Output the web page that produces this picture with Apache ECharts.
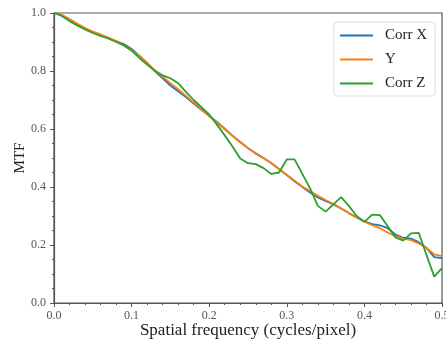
<!DOCTYPE html>
<html><head><meta charset="utf-8">
<script src="https://cdn.jsdelivr.net/npm/echarts@6/dist/echarts.min.js"></script>
<style>html,body{margin:0;padding:0;background:#fff}#c{width:446px;height:339px}</style>
</head><body><div id="c"></div>
<script>
const freq = [0.00,0.01,0.02,0.03,0.04,0.05,0.06,0.07,0.08,0.09,0.10,0.11,0.12,0.13,0.14,0.15,0.16,0.17,0.18,0.19,0.20,0.21,0.22,0.23,0.24,0.25,0.26,0.27,0.28,0.29,0.30,0.31,0.32,0.33,0.34,0.35,0.36,0.37,0.38,0.39,0.40,0.41,0.42,0.43,0.44,0.45,0.46,0.47,0.48,0.49,0.50];
const corrX = [1.000,0.993,0.978,0.962,0.947,0.934,0.923,0.913,0.903,0.893,0.876,0.853,0.828,0.800,0.775,0.750,0.730,0.710,0.688,0.666,0.645,0.624,0.601,0.577,0.555,0.534,0.516,0.500,0.483,0.462,0.441,0.420,0.400,0.381,0.364,0.352,0.340,0.326,0.310,0.295,0.282,0.272,0.268,0.258,0.236,0.225,0.222,0.210,0.190,0.158,0.155];
const corrY = [1.000,0.993,0.978,0.963,0.948,0.936,0.926,0.915,0.903,0.889,0.872,0.852,0.828,0.803,0.780,0.758,0.737,0.714,0.691,0.668,0.645,0.622,0.599,0.576,0.554,0.534,0.515,0.499,0.482,0.462,0.442,0.422,0.402,0.386,0.370,0.355,0.342,0.326,0.310,0.295,0.280,0.268,0.258,0.243,0.230,0.222,0.217,0.205,0.190,0.168,0.162];
const corrZ = [1.000,0.990,0.972,0.957,0.943,0.931,0.921,0.912,0.900,0.888,0.870,0.845,0.822,0.800,0.785,0.775,0.758,0.728,0.700,0.675,0.650,0.615,0.578,0.540,0.498,0.482,0.479,0.465,0.445,0.450,0.495,0.495,0.445,0.395,0.335,0.315,0.340,0.365,0.335,0.300,0.280,0.305,0.303,0.265,0.226,0.215,0.240,0.242,0.166,0.091,0.120];
const xTicks = [0, 0.5, 0.1];
const yTicks = [0, 1.0, 0.2];
const names = ['Corr X','Y','Corr Z'];
const colors = ['#1f77b4','#ff7f0e','#2ca02c'];

const pair = arr => freq.map((f,i)=>[f,arr[i]]);
const serif = '"Liberation Serif","DejaVu Serif",serif';
const axisCol = '#555';
const chart = echarts.init(document.getElementById('c'));
chart.setOption({
  animation:false,
  grid:{left:54,right:4,top:13,bottom:36,containLabel:false,outerBoundsMode:'none',show:true,borderColor:axisCol,borderWidth:1.2,backgroundColor:'transparent'},
  legend:{
    orient:'vertical', right:11, top:22, data:names,
    icon:'rect', itemWidth:33, itemHeight:2, itemGap:9,
    backgroundColor:'#fff', borderColor:'#ddd', borderWidth:1, borderRadius:3,
    padding:[6,8,5,6],
    textStyle:{fontFamily:serif,fontSize:15,color:'#222',padding:[0,0,0,7]}
  },
  xAxis:{
    type:'value', min:xTicks[0], max:xTicks[1], interval:xTicks[2],
    name:'Spatial frequency (cycles/pixel)', nameLocation:'middle', nameGap:19, nameMoveOverlap:false,
    nameTextStyle:{fontFamily:serif,fontSize:17,color:'#222',verticalAlign:'top'},
    axisLine:{show:true,lineStyle:{color:axisCol,width:1.2}},
    axisTick:{show:true,length:4,lineStyle:{color:axisCol}},
    minorTick:{show:true,splitNumber:5,length:2,lineStyle:{color:axisCol}},
    splitLine:{show:false},
    axisLabel:{fontFamily:serif,fontSize:12,color:'#555',margin:7,formatter:v=>v.toFixed(1)}
  },
  yAxis:{
    type:'value', min:yTicks[0], max:yTicks[1], interval:yTicks[2],
    name:'MTF', nameLocation:'middle', nameGap:26, nameRotate:90, nameMoveOverlap:false,
    nameTextStyle:{fontFamily:serif,fontSize:15,color:'#222'},
    axisLine:{show:true,lineStyle:{color:axisCol,width:1.2}},
    axisTick:{show:true,length:4,lineStyle:{color:axisCol}},
    minorTick:{show:true,splitNumber:4,length:2,lineStyle:{color:axisCol}},
    splitLine:{show:false},
    axisLabel:{fontFamily:serif,fontSize:12,color:'#555',margin:8,formatter:v=>v.toFixed(1)}
  },
  series:[corrX,corrY,corrZ].map((arr,i)=>({
    name:names[i], type:'line', data:pair(arr), showSymbol:false, symbol:'none',
    lineStyle:{color:colors[i],width:1.8}, itemStyle:{color:colors[i]}, z:2+i
  }))
});
</script></body></html>
